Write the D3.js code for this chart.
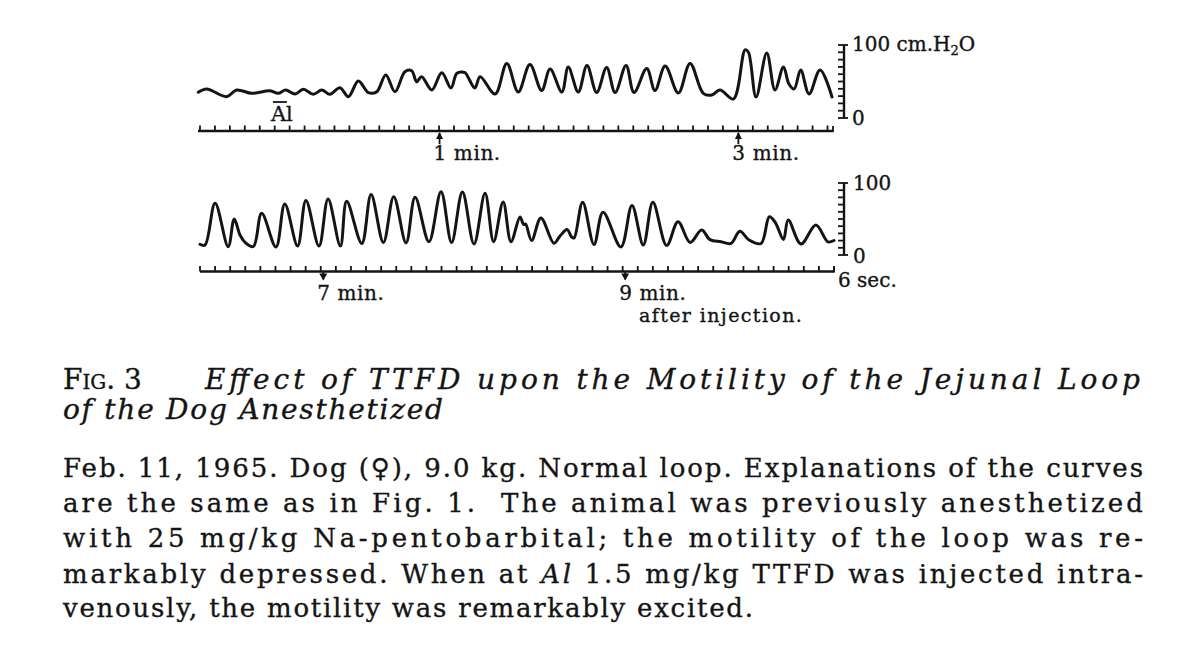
<!DOCTYPE html>
<html><head><meta charset="utf-8">
<script src="https://cdn.jsdelivr.net/npm/d3@7"></script>
<style>html,body{margin:0;padding:0;background:#fff;} svg{display:block} text{stroke:#141414;stroke-width:0.35px;}</style>
</head><body><svg id="c" width="1200" height="658"></svg>
<script>
// ---------------- DATA ----------------
// Upper record: time in seconds after injection (Al = 0), pressure in cm H2O
const topTime = [-36.9,-33.5,-25.5,-21.5,-15.4,-8.1,-4.8,-1.8,2.0,5.3,9.3,12.7,16.0,20.0,23.4,27.4,31.4,34.8,38.4,42.1,46.1,48.8,50.8,52.8,56.9,60.9,64.6,67.0,70.2,71.4,74.2,76.3,82.3,87.0,91.6,96.3,101.0,104.4,109.1,111.7,115.7,119.2,123.1,127.1,130.5,134.9,138.1,143.2,146.5,150.6,155.9,160.6,165.9,169.3,172.6,178.0,182.7,184.0,187.1,191.4,194.7,198.1,200.3,202.4,205.0,208.4,212.8,217.6];
const topPressure = [35.2,39.7,29.2,38.4,33.8,37.4,33.8,38.4,32.9,39.3,32.5,38.4,32.5,41.5,29.2,50.7,34.7,36.0,58.9,36.0,63.4,64.8,49.7,56.6,38.4,62.1,41.1,61.2,62.1,56.2,41.1,56.6,32.9,74.7,35.6,73.3,37.7,67.1,35.6,69.9,35.6,71.9,34.9,69.2,34.9,71.9,34.9,67.8,37.7,71.2,34.2,74.7,33.8,31.5,38.4,26.0,93.2,90.4,28.8,89.0,38.4,69.9,46.6,39.7,65.8,32.9,65.8,28.8];
// Lower record
const bottomTime = [371.0,373.0,377.0,382.2,384.6,386.9,388.9,392.2,395.5,401.2,404.7,409.8,413.1,418.3,421.9,426.8,429.3,435.3,439.0,443.9,448.0,452.9,456.5,462.0,466.8,471.0,475.3,479.9,484.3,487.7,491.5,494.6,498.2,499.6,500.4,502.8,506.5,511.7,514.1,516.9,518.7,519.7,523.1,527.6,531.2,538.3,542.7,547.2,551.0,556.5,561.0,565.8,570.4,573.7,578.1,582.0,585.6,589.2,594.0,597.3,599.7,602.9,604.8,609.9,615.8,620.6,623.0];
const bottomPressure = [14.9,13.9,71.8,11.5,50.0,27.8,17.6,11.8,57.9,11.1,70.8,12.5,75.7,12.5,77.8,12.5,74.6,16.0,84.0,17.4,81.0,16.7,80.1,18.5,87.9,17.4,87.5,15.3,85.7,18.5,73.6,18.5,52.8,42.4,43.1,20.1,51.4,16.3,26.4,35.4,25.0,23.6,73.3,14.6,59.4,11.1,68.8,13.9,73.3,13.2,46.3,17.4,34.7,21.3,18.5,16.0,32.9,20.8,16.0,53.2,45.1,21.5,48.6,15.3,41.7,18.1,20.1];

const topMinuteMarks = [60, 180];
const topMinuteLabels = ["1 min.", "3 min."];
const bottomMinuteMarks = [420, 540];
const bottomMinuteLabels = ["7 min.", "9 min."];
const injectionMark = [-2.9];
const injectionLabel = ["Al"];
const timerStepSec = 6;
const topTimerStart = -36.2;
const bottomTimerStart = 371;
const pressureTicks = [0,10,20,30,40,50,60,70,80,90,100];
const topScaleLabels = ["0", "100 cm.H", "2", "O"];
const bottomScaleLabels = ["0", "100"];
const timerLabel = ["6 sec."];
const afterLabel = ["after injection."];

const captionTitle1 = "Effect of TTFD upon the Motility of the Jejunal Loop";
const captionTitle2 = "of the Dog Anesthetized";
const captionLines = [
  "Feb. 11, 1965. Dog (♀), 9.0 kg. Normal loop. Explanations of the curves",
  "are the same as in Fig. 1.  The animal was previously anesthetized",
  "with 25 mg/kg Na-pentobarbital; the motility of the loop was re-",
  ["markably depressed. When at ", "Al", " 1.5 mg/kg TTFD was injected intra-"],
  "venously, the motility was remarkably excited."
];

// ---------------- LAYOUT ----------------
const svg = d3.select("#c");
const INK = "#141414";
const serif = "'DejaVu Serif','Liberation Serif',serif";

const strips = [
  {time: topTime, pres: topPressure, xDom: [-37, 218], xRange: [198, 833], yRange: [118, 45],
   axisY: 131, timerStart: topTimerStart, marks: topMinuteMarks, labels: topMinuteLabels, up: true, labelBase: 160},
  {time: bottomTime, pres: bottomPressure, xDom: [371, 623], xRange: [200, 834], yRange: [255, 183],
   axisY: 271.5, timerStart: bottomTimerStart, marks: bottomMinuteMarks, labels: bottomMinuteLabels, up: false, labelBase: 300}
];

strips.forEach((s, si) => {
  const x = d3.scaleLinear().domain(s.xDom).range(s.xRange);
  const y = d3.scaleLinear().domain([0, 100]).range(s.yRange);
  s.x = x; s.y = y;
  const g = svg.append("g");
  const pts = s.time.map((t, i) => [t, s.pres[i]]);
  const line = d3.line().x(d => x(d[0])).y(d => y(d[1])).curve(d3.curveCatmullRom.alpha(0.5));
  g.append("path").attr("d", line(pts)).attr("fill", "none").attr("stroke", INK)
    .attr("stroke-width", 3).attr("stroke-linejoin", "round").attr("stroke-linecap", "round");

  // timer axis line
  g.append("line").attr("x1", x(s.xDom[0])).attr("x2", x(s.xDom[1]))
    .attr("y1", s.axisY).attr("y2", s.axisY).attr("stroke", INK).attr("stroke-width", 2.4);
  const tickTimes = d3.range(s.timerStart, s.xDom[1] + 0.01, timerStepSec);
  g.selectAll(".tk").data(tickTimes).enter().append("line")
    .attr("x1", d => x(d)).attr("x2", d => x(d))
    .attr("y1", s.axisY).attr("y2", s.axisY - 5.5)
    .attr("stroke", INK).attr("stroke-width", 1.8);
  g.append("line").attr("x1", x(s.xDom[1])).attr("x2", x(s.xDom[1]))
    .attr("y1", s.axisY + 1).attr("y2", s.axisY - 5).attr("stroke", INK).attr("stroke-width", 1.8);

  // minute marks
  s.marks.forEach((m, i) => {
    const mx = x(m);
    if (s.up) {
      g.append("line").attr("x1", mx).attr("x2", mx).attr("y1", s.axisY + 2).attr("y2", s.axisY + 13)
        .attr("stroke", INK).attr("stroke-width", 1.8);
      g.append("path").attr("d", `M${mx - 3.5},${s.axisY + 8} L${mx},${s.axisY + 1} L${mx + 3.5},${s.axisY + 8} Z`).attr("fill", INK);
    } else {
      g.append("line").attr("x1", mx).attr("x2", mx).attr("y1", s.axisY).attr("y2", s.axisY + 8)
        .attr("stroke", INK).attr("stroke-width", 1.8);
      g.append("path").attr("d", `M${mx - 4},${s.axisY + 2} L${mx + 4},${s.axisY + 2} L${mx},${s.axisY + 9} Z`).attr("fill", INK);
    }
    g.append("text").attr("x", mx - 6).attr("y", s.labelBase).text(s.labels[i])
      .attr("font-family", serif).attr("font-size", 20).attr("letter-spacing", 0.6).attr("fill", INK);
  });

  // pressure scale bar
  const bx = 844;
  g.append("line").attr("x1", bx).attr("x2", bx).attr("y1", y(0)).attr("y2", y(100))
    .attr("stroke", INK).attr("stroke-width", 2.4);
  g.selectAll(".pt").data(pressureTicks).enter().append("line")
    .attr("x1", bx - 6).attr("x2", bx).attr("y1", d => y(d)).attr("y2", d => y(d))
    .attr("stroke", INK).attr("stroke-width", 1.8);
  [0, 100].forEach(v => g.append("line").attr("x1", bx).attr("x2", bx + 4).attr("y1", y(v)).attr("y2", y(v))
    .attr("stroke", INK).attr("stroke-width", 1.8));
});

// scale labels
const T = strips[0], B = strips[1];
const lab = (x, y, txt, size) => svg.append("text").attr("x", x).attr("y", y).text(txt)
  .attr("font-family", serif).attr("font-size", size || 20).attr("fill", INK);
lab(852, T.y(0) + 7, topScaleLabels[0]);
const t100 = svg.append("text").attr("x", 852).attr("y", T.y(100) + 6).attr("font-family", serif)
  .attr("font-size", 20).attr("fill", INK);
t100.append("tspan").text(topScaleLabels[1]);
t100.append("tspan").attr("font-size", 13).attr("dy", 4).text(topScaleLabels[2]);
t100.append("tspan").attr("dy", -4).text(topScaleLabels[3]);
lab(853, B.y(0) + 8, bottomScaleLabels[0]);
lab(853, B.y(100) + 7, bottomScaleLabels[1]);
lab(838, 287, timerLabel[0]);
svg.append("text").attr("x", 639).attr("y", 322).text(afterLabel[0]).attr("font-family", serif)
  .attr("font-size", 19).attr("letter-spacing", 1.4).attr("fill", INK);

// injection mark "Al"
const ax = T.x(injectionMark[0]);
svg.append("text").attr("x", ax - 12).attr("y", 121).text(injectionLabel[0])
  .attr("font-family", serif).attr("font-size", 21).attr("fill", INK);
svg.append("line").attr("x1", ax - 10).attr("x2", ax + 4).attr("y1", 102).attr("y2", 102)
  .attr("stroke", INK).attr("stroke-width", 1.8);

// ---------------- CAPTION ----------------
svg.append("text").attr("x", 63).attr("y", 389).attr("font-family", serif).attr("font-size", 28)
  .attr("fill", INK).style("font-variant", "small-caps").text("Fig. 3");
svg.append("text").attr("x", 205).attr("y", 389).attr("font-family", serif).attr("font-size", 28)
  .attr("font-style", "italic").attr("fill", INK).attr("textLength", 935).attr("lengthAdjust", "spacing")
  .text(captionTitle1);
svg.append("text").attr("x", 63).attr("y", 419).attr("font-family", serif).attr("font-size", 28)
  .attr("font-style", "italic").attr("fill", INK).attr("textLength", 380).attr("lengthAdjust", "spacing")
  .text(captionTitle2);

const baselines = [477, 512, 547, 583, 617];
const lineWidths = [1080, 1080, 1080, 1080, 690];
captionLines.forEach((ln, i) => {
  const t = svg.append("text").attr("x", 63).attr("y", baselines[i]).attr("font-family", serif)
    .attr("font-size", 26).attr("fill", INK).attr("textLength", lineWidths[i]).attr("lengthAdjust", "spacing")
    .style("white-space", "pre");
  if (Array.isArray(ln)) {
    ln.forEach((part, j) => t.append("tspan").attr("font-style", j === 1 ? "italic" : null).text(part));
  } else t.text(ln);
});
</script></body></html>
